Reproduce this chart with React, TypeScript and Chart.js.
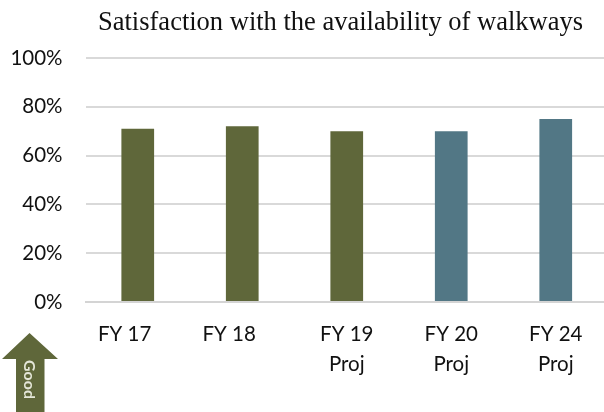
import React, { useEffect, useRef } from "react";
import { Chart, registerables } from "chart.js";

Chart.register(...registerables);

const categories = [["FY 17     "], ["FY 18     "], ["FY 19", "Proj"], ["FY 20", "Proj"], ["FY 24", "Proj"]];
const values = [71, 72, 70, 70, 75];
const barColors = ["#5f673a", "#5f673a", "#5f673a", "#527785", "#527785"];
const yTicks = [0, 20, 40, 60, 80, 100];
const titleText = "Satisfaction with the availability of walkways";
const arrowText = "Good";

export default function App() {
  const ref = useRef<HTMLCanvasElement | null>(null);
  useEffect(() => {
    document.body.style.margin = "0";
    document.body.style.overflow = "hidden";
    const overlayPlugin = {
      id: "overlay",
      afterDraw(chart: any) {
        const c = chart.ctx;
        c.save();
        c.fillStyle = "#111111";
        c.font = "26.5px 'Liberation Serif'";
        c.textAlign = "center";
        c.textBaseline = "alphabetic";
        c.fillText(titleText, 340.5, 30);
        c.fillStyle = "#5f673a";
        c.beginPath();
        c.moveTo(29.5, 333);
        c.lineTo(58, 359);
        c.lineTo(44.5, 359);
        c.lineTo(44.5, 412);
        c.lineTo(16, 412);
        c.lineTo(16, 359);
        c.lineTo(2, 359);
        c.closePath();
        c.fill();
        c.translate(29.5, 379.5);
        c.rotate(Math.PI / 2);
        c.fillStyle = "#e4e6d8";
        c.font = "bold 16px Lato";
        c.textAlign = "center";
        c.textBaseline = "middle";
        c.fillText(arrowText, 0, 0);
        c.restore();
      },
    };
    const chart = new Chart(ref.current!, {
      type: "bar",
      data: {
        labels: categories as any,
        datasets: [{ data: values, backgroundColor: barColors, barPercentage: 0.313, categoryPercentage: 1 }],
      },
      options: {
        animation: false,
        responsive: false,
        layout: { padding: { top: 58, left: 0, right: 2, bottom: 0 } },
        plugins: {
          legend: { display: false },
          tooltip: { enabled: false },
          title: { display: false },
        },
        scales: {
          x: {
            afterFit(axis: any) {
              axis.height = 110;
            },
            grid: { display: false },
            border: { color: "#d4d4d4", width: 2 },
            ticks: {
              color: "#111111",
              font: { family: "Lato", size: 20.5, lineHeight: 1.46 },
              padding: 9,
              maxRotation: 0,
              autoSkip: false,
            },
          },
          y: {
            min: 0,
            max: 100,
            afterBuildTicks(axis: any) {
              axis.ticks = yTicks.map((value) => ({ value }));
            },
            afterFit(axis: any) {
              axis.width = 85.5;
            },
            grid: { color: "#d9d9d9", lineWidth: 2, drawTicks: false },
            border: { display: false },
            ticks: {
              color: "#111111",
              font: { family: "Lato", size: 20.5 },
              padding: 23,
              callback: (v: any) => v + "%",
            },
          },
        },
      },
      plugins: [overlayPlugin],
    });
    return () => chart.destroy();
  }, []);
  return (
    <div style={{ width: 604, height: 412, overflow: "hidden" }}>
      <canvas ref={ref} width={610} height={412} style={{ display: "block" }} />
    </div>
  );
}
